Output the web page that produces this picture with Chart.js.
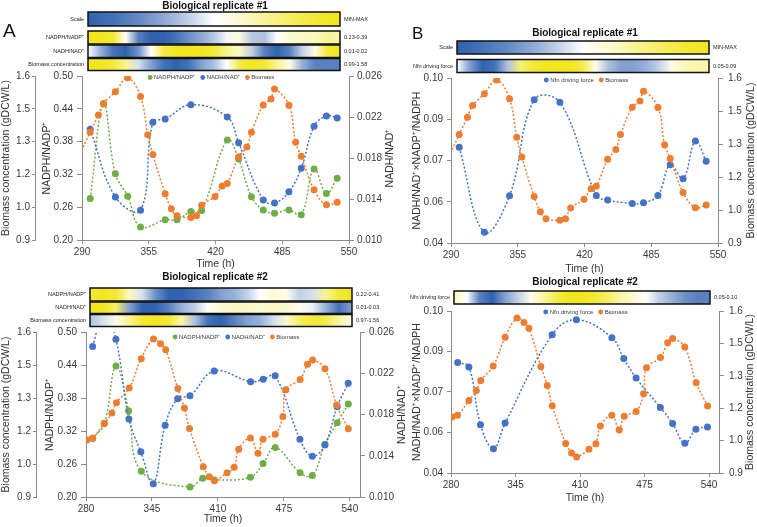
<!DOCTYPE html>
<html>
<head>
<meta charset="utf-8">
<script src="https://cdn.jsdelivr.net/npm/chart.js@4.4.0/dist/chart.umd.min.js"></script>
<style>
    html, body { margin: 0; padding: 0; background: #fff; }
    body { width: 757px; height: 527px; position: relative; overflow: hidden; }
    canvas { position: absolute; }
</style>
</head>
<body>
<canvas id="chartA1" width="398" height="270" style="left:0;top:0"></canvas>
<canvas id="chartA2" width="408" height="257" style="left:0;top:270px"></canvas>
<canvas id="chartB1" width="357" height="275" style="left:400px;top:0"></canvas>
<canvas id="chartB2" width="357" height="252" style="left:400px;top:275px"></canvas>
<script>
// ---- Biological replicate #1 ----
const r1BioTime = [286, 298, 306, 311, 322.5, 334.5, 347, 354, 359, 371, 377, 382.5, 396, 401.5, 406.5, 419.5, 426.5, 431.5, 442.5, 450.5, 455, 466.5, 474, 477.5, 491.5, 498, 503.5, 516, 528, 538.5];
const r1Bio = [1.25, 1.36, 1.434, 1.483, 1.533, 1.592, 1.512, 1.349, 1.265, 1.097, 1.033, 1.003, 0.996, 1.003, 1.048, 1.086, 1.130, 1.141, 1.255, 1.297, 1.360, 1.476, 1.502, 1.544, 1.475, 1.317, 1.258, 1.114, 1.050, 1.061];
const r1NadphTime = [298, 311, 322.5, 334.5, 347, 371, 382.5, 396, 406.5, 431.5, 442.5, 455, 466.5, 477.5, 491.5, 503.5, 516, 528, 538.5];
const r1Nadph = [0.276, 0.449, 0.321, 0.280, 0.224, 0.237, 0.237, 0.252, 0.254, 0.383, 0.348, 0.279, 0.255, 0.249, 0.255, 0.246, 0.330, 0.285, 0.313];
const r1NadhTime = [298, 322.5, 347, 359, 371, 396, 431.5, 442.5, 466.5, 477.5, 491.5, 503.5, 516, 528, 538.5];
const r1Nadh = [0.0208, 0.0142, 0.0129, 0.0215, 0.0218, 0.0232, 0.0220, 0.0195, 0.0139, 0.0136, 0.0147, 0.0170, 0.0211, 0.0221, 0.0219];
const r1NfnTime = [298, 322.5, 347, 371, 396, 431.5, 442.5, 466.5, 477.5, 491.5, 503.5, 516, 528, 538.5];
const r1Nfn = [0.0748, 0.0439, 0.0572, 0.0921, 0.0912, 0.0573, 0.0556, 0.0544, 0.0546, 0.0573, 0.0685, 0.0634, 0.0771, 0.0697];

// ---- Biological replicate #2 ----
const r2BioTime = [281, 286.5, 298, 305.5, 310, 322.5, 334.5, 346.5, 353.5, 358.5, 370.5, 377, 382, 395.5, 401.5, 406.5, 419, 426, 430.5, 442, 449.5, 454.5, 466.5, 474, 477, 491, 498.3, 503.3, 515.5, 527, 538.5];
const r2Bio = [1.142, 1.149, 1.213, 1.256, 1.300, 1.362, 1.487, 1.570, 1.550, 1.525, 1.360, 1.278, 1.191, 1.028, 0.986, 0.969, 1.003, 1.026, 1.103, 1.150, 1.086, 1.145, 1.166, 1.242, 1.355, 1.399, 1.463, 1.481, 1.444, 1.290, 1.190];
const r2NadphTime = [286.5, 298, 309.5, 322, 334.5, 382.5, 395, 406.5, 442, 454.5, 466.5, 491, 503, 515.5, 527.5, 538.5];
const r2Nadph = [0.307, 0.333, 0.438, 0.357, 0.247, 0.218, 0.234, 0.231, 0.236, 0.261, 0.290, 0.244, 0.239, 0.296, 0.335, 0.369];
const r2NadhTime = [286.5, 298, 309.5, 322.3, 334, 346.3, 358, 370.3, 382.4, 406.4, 442.2, 454.6, 466.4, 490.8, 503, 515.4, 527.5, 538.4];
const r2Nadh = [0.0246, 0.0280, 0.0253, 0.01756, 0.01439, 0.01129, 0.01695, 0.01953, 0.01982, 0.02222, 0.02118, 0.02141, 0.02176, 0.0156, 0.01395, 0.01504, 0.01876, 0.02103];
const r2NfnTime = [286.7, 298, 309.7, 322.8, 334.5, 381.9, 406.3, 442.1, 454.1, 466.5, 490.9, 503.3, 515.6, 526.7, 538.4];
const r2Nfn = [0.0809, 0.0793, 0.0579, 0.0490, 0.0585, 0.0912, 0.0968, 0.0901, 0.0824, 0.0752, 0.0643, 0.0583, 0.0510, 0.0562, 0.0570];

// ---- Heatmap strips (-1 = min/blue, 0 = white, 1 = max/yellow), evenly spaced ----
const scaleLevels = [-1, -0.9, -0.75, -0.55, -0.3, 0, 0.2, 0.45, 0.7, 0.9, 1];
const hm1Nadph = [1, 1, 0.9, 0.05, -0.8, -1, -1, -0.9, -0.7, -0.55, -0.35, -0.05, 0.15, -0.35, -0.4, 0, 0.2, 0.25, 0.3, 0.45, 0.4];
const hm1Nadh = [0, -0.5, -0.9, -1, -0.7, 0, 0.8, 1, 1, 1, 0.9, 0.5, 0.3, -0.3, -0.8, -1, -0.8, -0.3, 0.1, 0.9, 1];
const hm1Bio = [1, 1, 0.9, 0.5, -0.2, -0.6, -0.9, -1, -0.9, -0.6, -0.4, 0, 0.8, 1, 0.9, 0.5, 0.1, -0.5, -0.8, -0.8, -0.8];
const hm2Nadph = [0.9, 1, 0.9, 0.3, -0.2, -0.7, -1, -1, -0.9, -0.8, -0.6, -0.5, -0.3, 0, 0.2, 0.1, -0.3, -0.2, 0.5, 0.9, 1];
const hm2Nadh = [1, 1, 0.7, -0.6, -1, -1, -0.8, -0.5, -0.3, 0, 0.2, 0.25, 0.25, 0.2, 0.25, 0.2, 0.1, -0.1, -0.5, -0.9, -0.6];
const hm2Bio = [-0.4, -0.2, 0.1, 0.5, 0.9, 1, 0.9, 0.4, -0.4, -0.9, -1, -0.8, -0.6, -0.5, -0.2, 0.2, 0.7, 0.9, 0.8, 0.4, 0.1];
const hm1Nfn = [0, -0.6, -1, -0.9, -0.4, 0.6, 0.9, 1, 1, 1, 0.8, 0.1, -0.4, -0.6, -0.6, -0.5, -0.3, 0.1, 0.3, 0.35, 0.4];
const hm2Nfn = [0.3, 0, -0.8, -1, -0.6, -0.3, 0.1, 0.4, 0.8, 1, 1, 0.9, 0.7, 0.4, 0.2, 0, -0.3, -0.5, -0.7, -0.8, -0.8];

// ---- Ticks ----
const timeTicks1 = [290, 355, 420, 485, 550];
const timeTicks2 = [280, 345, 410, 475, 540];
const bioTicks = [0.9, 1.04, 1.18, 1.32, 1.46, 1.6];
const bioLabels = ['0.9', '1.0', '1.2', '1.3', '1.5', '1.6'];
const nadphTicks = [0.20, 0.26, 0.32, 0.38, 0.44, 0.50];
const nadphLabels = ['0.20', '0.26', '0.32', '0.38', '0.44', '0.50'];
const nadhTicks = [0.010, 0.014, 0.018, 0.022, 0.026];
const nadhLabels = ['0.010', '0.014', '0.018', '0.022', '0.026'];
const nfnTicks = [0.04, 0.055, 0.07, 0.085, 0.10];
const nfnLabels = ['0.04', '0.06', '0.07', '0.09', '0.10'];

const FONT = '"Liberation Sans", Arial, Helvetica, sans-serif';
const AXIS = '#8c8c8c';
const TEXT = '#3a3a3a';
const GREEN = '#70AD47', BLUE = '#4472C4', ORANGE = '#ED7D31';
const TICK_SIZE = 10;
const TITLE_SIZE = 10.5;

Chart.defaults.font.family = FONT;
Chart.defaults.font.size = TICK_SIZE;
Chart.defaults.color = TEXT;

function levelColor(l) {
    const blue = [47, 98, 176], yellow = [242, 230, 30];
    const to = l < 0 ? blue : yellow;
    const f = Math.min(1, Math.abs(l));
    const c = to.map(v => Math.round(255 + (v - 255) * f));
    return `rgb(${c[0]},${c[1]},${c[2]})`;
}

// titles, heatmap strips, legend and right-side axis title
const decor = {
    id: 'decor',
    afterDraw(chart, args, opts) {
        const ctx = chart.ctx;
        ctx.save();
        if (opts.letter) {
            ctx.font = `${opts.letter.size}px ${FONT}`;
            ctx.fillStyle = '#111';
            ctx.textAlign = 'left';
            ctx.textBaseline = 'alphabetic';
            ctx.fillText(opts.letter.text, opts.letter.x, opts.letter.y);
        }
        ctx.font = `bold 10px ${FONT}`;
        ctx.fillStyle = '#111';
        ctx.textAlign = 'center';
        ctx.textBaseline = 'middle';
        ctx.fillText(opts.title.text, opts.title.x, opts.title.y);

        opts.strips.forEach(s => {
            const g = ctx.createLinearGradient(s.x, 0, s.x + s.w, 0);
            s.levels.forEach((l, i) => g.addColorStop(i / (s.levels.length - 1), levelColor(l)));
            ctx.fillStyle = g;
            ctx.fillRect(s.x, s.y, s.w, s.h);
            ctx.strokeStyle = '#111';
            ctx.lineWidth = 1.5;
            ctx.strokeRect(s.x, s.y, s.w, s.h);
            ctx.font = `5.5px ${FONT}`;
            ctx.fillStyle = '#222';
            ctx.textAlign = 'right';
            ctx.fillText(s.label, s.x - 4, s.y + s.h / 2);
            ctx.textAlign = 'left';
            ctx.fillText(s.range, s.x + s.w + 4, s.y + s.h / 2);
        });

        // legend inside the plot
        const lg = opts.legend;
        ctx.font = `6px ${FONT}`;
        const r = 2.4, gIn = 1.5, gOut = 5;
        const items = chart.data.datasets.map(d => ({ text: d.label, color: d.borderColor, w: ctx.measureText(d.label).width }));
        const total = items.reduce((s, it) => s + 2 * r + gIn + it.w, 0) + gOut * (items.length - 1);
        let x = lg.cx - total / 2;
        const y = chart.chartArea.top + lg.dy;
        items.forEach(it => {
            ctx.fillStyle = it.color;
            ctx.beginPath();
            ctx.arc(x + r, y, r, 0, Math.PI * 2);
            ctx.fill();
            ctx.fillStyle = TEXT;
            ctx.textAlign = 'left';
            ctx.fillText(it.text, x + 2 * r + gIn, y);
            x += 2 * r + gIn + it.w + gOut;
        });

        // right axis title, reading bottom to top
        const rt = opts.rightTitle;
        const ca = chart.chartArea;
        ctx.translate(rt.x, (ca.top + ca.bottom) / 2);
        ctx.rotate(-Math.PI / 2);
        ctx.font = `${TITLE_SIZE}px ${FONT}`;
        ctx.fillStyle = '#333';
        ctx.textAlign = 'center';
        ctx.fillText(rt.text, 0, 0);
        ctx.restore();
    }
};

function series(label, xs, ys, color, axis, order) {
    return {
        label: label,
        data: xs.map((x, i) => ({ x: x, y: ys[i] })),
        yAxisID: axis,
        order: order,
        borderColor: color,
        backgroundColor: color,
        pointBackgroundColor: color,
        pointBorderColor: color,
        pointBorderWidth: 0,
        pointRadius: 3.5,
        borderWidth: 1.5,
        borderDash: [2, 2],
        tension: 0.4
    };
}

function yAxis(o) {
    return {
        type: 'linear',
        position: o.pos,
        weight: o.weight,
        min: o.min,
        max: o.max,
        afterBuildTicks: s => { s.ticks = o.ticks.map(v => ({ value: v })); },
        afterFit: s => { s.width = o.width; },
        ticks: { callback: (v, i) => o.labels[i], padding: o.pad, color: TEXT, font: { size: TICK_SIZE } },
        grid: { drawOnChartArea: false, drawTicks: true, tickLength: o.tick, color: AXIS },
        border: { display: true, color: AXIS, width: 1 },
        title: o.title
            ? { display: true, text: o.title, color: '#333', font: { size: TITLE_SIZE }, padding: { top: o.titlePad, bottom: 0 } }
            : { display: false }
    };
}

function xAxis(min, max, ticks, height) {
    return {
        type: 'linear',
        min: min,
        max: max,
        afterBuildTicks: s => { s.ticks = ticks.map(v => ({ value: v })); },
        afterFit: s => { s.height = height; },
        ticks: { callback: v => String(v), maxRotation: 0, autoSkip: false, padding: 2, color: TEXT, font: { size: TICK_SIZE } },
        grid: { drawOnChartArea: false, tickLength: 4, color: AXIS },
        border: { display: true, color: AXIS, width: 1 },
        title: { display: true, text: 'Time (h)', color: '#333', font: { size: TITLE_SIZE }, padding: { top: 0, bottom: 0 } }
    };
}

function makeChart(id, cfg) {
    return new Chart(document.getElementById(id), {
        type: 'line',
        data: { datasets: cfg.datasets },
        options: {
            responsive: false,
            animation: false,
            devicePixelRatio: 1,
            layout: { padding: cfg.padding },
            plugins: { legend: { display: false }, tooltip: { enabled: false }, decor: cfg.decor },
            scales: cfg.scales
        },
        plugins: [decor]
    });
}

// Panel A, replicate #1
makeChart('chartA1', {
    padding: { top: 76, bottom: 0, left: 0, right: 0 },
    datasets: [
        series('NADPH/NADP⁺', r1NadphTime, r1Nadph, GREEN, 'yN', 2),
        series('NADH/NAD⁺', r1NadhTime, r1Nadh, BLUE, 'yR', 1),
        series('Biomass', r1BioTime, r1Bio, ORANGE, 'yB', 0)
    ],
    scales: {
        x: xAxis(290, 550, timeTicks1, 30),
        yN: yAxis({ pos: 'left', weight: 0, min: 0.2, max: 0.5, ticks: nadphTicks, labels: nadphLabels, width: 47, pad: 4, tick: 5, title: 'NADPH/NADP⁺', titlePad: 6 }),
        yB: yAxis({ pos: 'left', weight: 1, min: 0.9, max: 1.6, ticks: bioTicks, labels: bioLabels, width: 35, pad: 2, tick: 3, title: 'Biomass concentration (gDCW/L)', titlePad: 0 }),
        yR: yAxis({ pos: 'right', weight: 0, min: 0.010, max: 0.026, ticks: nadhTicks, labels: nadhLabels, width: 49, pad: 3, tick: 5 })
    },
    decor: {
        letter: { text: 'A', x: 3, y: 37, size: 19 },
        title: { text: 'Biological replicate #1', x: 215, y: 6 },
        strips: [
            { label: 'Scale', range: 'MIN-MAX', levels: scaleLevels, x: 88, y: 12, w: 252, h: 14 },
            { label: 'NADPH/NADP⁺', range: '0.23-0.39', levels: hm1Nadph, x: 88, y: 31, w: 252, h: 13 },
            { label: 'NADH/NAD⁺', range: '0.01-0.02', levels: hm1Nadh, x: 88, y: 45, w: 252, h: 12.5 },
            { label: 'Biomass concentration', range: '0.99-1.58', levels: hm1Bio, x: 88, y: 58.5, w: 252, h: 12 }
        ],
        legend: { cx: 211, dy: 1.5 },
        rightTitle: { text: 'NADH/NAD⁺', x: 390 }
    }
});

// Panel A, replicate #2
makeChart('chartA2', {
    padding: { top: 62, bottom: 2, left: 0, right: 0 },
    datasets: [
        series('NADPH/NADP⁺', r2NadphTime, r2Nadph, GREEN, 'yN', 2),
        series('NADH/NAD⁺', r2NadhTime, r2Nadh, BLUE, 'yR', 1),
        series('Biomass', r2BioTime, r2Bio, ORANGE, 'yB', 0)
    ],
    scales: {
        x: xAxis(280, 550, timeTicks2, 28),
        yN: yAxis({ pos: 'left', weight: 0, min: 0.2, max: 0.5, ticks: nadphTicks, labels: nadphLabels, width: 50, pad: 4, tick: 5, title: 'NADPH/NADP⁺', titlePad: 8 }),
        yB: yAxis({ pos: 'left', weight: 1, min: 0.9, max: 1.6, ticks: bioTicks, labels: bioLabels, width: 36, pad: 2, tick: 3, title: 'Biomass concentration (gDCW/L)', titlePad: 0 }),
        yR: yAxis({ pos: 'right', weight: 0, min: 0.010, max: 0.026, ticks: nadhTicks, labels: nadhLabels, width: 48, pad: 4, tick: 5 })
    },
    decor: {
        title: { text: 'Biological replicate #2', x: 215, y: 7 },
        strips: [
            { label: 'NADPH/NADP⁺', range: '0.22-0.41', levels: hm2Nadph, x: 90, y: 18, w: 262, h: 13 },
            { label: 'NADH/NAD⁺', range: '0.01-0.03', levels: hm2Nadh, x: 90, y: 32, w: 262, h: 11.5 },
            { label: 'Biomass concentration', range: '0.97-1.56', levels: hm2Bio, x: 90, y: 44.5, w: 262, h: 12 }
        ],
        legend: { cx: 236, dy: 5 },
        rightTitle: { text: 'NADH/NAD⁺', x: 402 }
    }
});

// Panel B, replicate #1
makeChart('chartB1', {
    padding: { top: 78, bottom: 0, left: 0, right: 0 },
    datasets: [
        series('Nfn driving force', r1NfnTime, r1Nfn, BLUE, 'yF', 1),
        series('Biomass', r1BioTime, r1Bio, ORANGE, 'yB', 0)
    ],
    scales: {
        x: xAxis(290, 550, timeTicks1, 32),
        yF: yAxis({ pos: 'left', weight: 0, min: 0.04, max: 0.10, ticks: nfnTicks, labels: nfnLabels, width: 51, pad: 4, tick: 4, title: 'NADH/NAD⁺×NADP⁺/NADPH', titlePad: 11 }),
        yB: yAxis({ pos: 'right', weight: 0, min: 0.9, max: 1.6, ticks: bioTicks, labels: bioLabels, width: 39, pad: 5, tick: 5 })
    },
    decor: {
        letter: { text: 'B', x: 12, y: 39, size: 17 },
        title: { text: 'Biological replicate #1', x: 185, y: 33.5 },
        strips: [
            { label: 'Scale', range: 'MIN-MAX', levels: scaleLevels, x: 57, y: 41, w: 252, h: 13 },
            { label: 'Nfn driving force', range: '0.05-0.09', levels: hm1Nfn, x: 57, y: 59.5, w: 252, h: 13 }
        ],
        legend: { cx: 186, dy: 2 },
        rightTitle: { text: 'Biomass concentration (gDCW/L)', x: 351 }
    }
});

// Panel B, replicate #2
makeChart('chartB2', {
    padding: { top: 36, bottom: 23, left: 0, right: 0 },
    datasets: [
        series('Nfn driving force', r2NfnTime, r2Nfn, BLUE, 'yF', 1),
        series('Biomass', r2BioTime, r2Bio, ORANGE, 'yB', 0)
    ],
    scales: {
        x: xAxis(280, 550, timeTicks2, 31),
        yF: yAxis({ pos: 'left', weight: 0, min: 0.04, max: 0.10, ticks: nfnTicks, labels: nfnLabels, width: 51, pad: 4, tick: 4, title: 'NADH/NAD⁺×NADP⁺/NADPH', titlePad: 11 }),
        yB: yAxis({ pos: 'right', weight: 0, min: 0.9, max: 1.6, ticks: bioTicks, labels: bioLabels, width: 38, pad: 5, tick: 5 })
    },
    decor: {
        title: { text: 'Biological replicate #2', x: 185, y: 7 },
        strips: [
            { label: 'Nfn driving force', range: '0.05-0.10', levels: hm2Nfn, x: 54, y: 16, w: 256, h: 13 }
        ],
        legend: { cx: 185.5, dy: 1 },
        rightTitle: { text: 'Biomass concentration (gDCW/L)', x: 350 }
    }
});
</script>
</body>
</html>
